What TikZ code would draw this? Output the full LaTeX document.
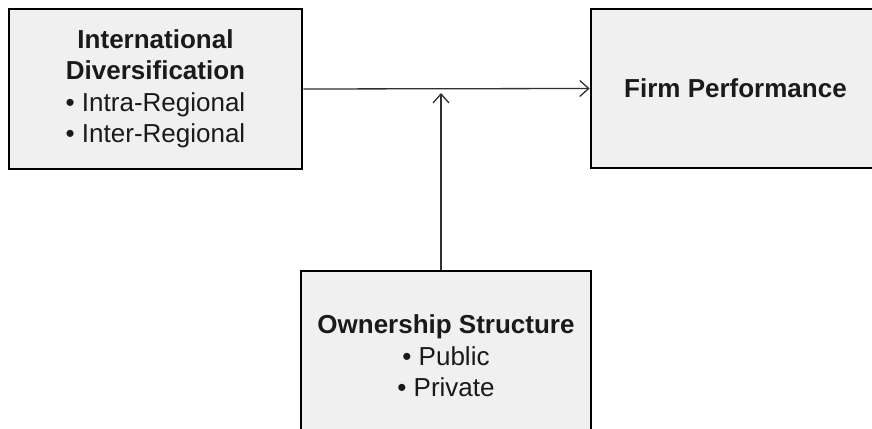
\documentclass[tikz,border=0pt]{standalone}
\usepackage{fontspec}
\setmainfont{Liberation Sans}
\usetikzlibrary{arrows.meta}
\definecolor{boxfill}{HTML}{F0F0F0}
\definecolor{inktext}{HTML}{1A1A1A}
\definecolor{linegray}{HTML}{303030}
\tikzset{
  panel/.style={draw=black, line width=2.6pt, fill=boxfill, text=inktext,
    align=center, inner sep=0pt, font=\fontsize{26}{31.5}\selectfont},
  arr/.style={draw=linegray, line width=1.3pt, -{Straight Barb[length=9pt,width=16pt,line width=1.3pt]}}
}
\begin{document}
\begin{tikzpicture}[x=1pt,y=1pt]
\useasboundingbox (0,0) rectangle (872,428);
\clip (0,0) rectangle (872,428);
\fill[white] (0,0) rectangle (872,428);
\node[panel, minimum width=293pt, minimum height=160pt] (intl) at (155.5,339)
  {\textbf{International}\\\textbf{Diversification}\\• Intra-Regional\\• Inter-Regional};
\node[panel, minimum width=289pt, minimum height=159pt] (perf) at (735.5,339.5)
  {\textbf{Firm Performance}};
\node[panel, minimum width=290pt, minimum height=170pt] (own) at (446,72)
  {\textbf{Ownership Structure}\\• Public\\• Private};
\coordinate (vtip) at (441,335);
\draw[arr] (intl.east) -- (perf.west);
\draw[arr] (own.north -| vtip) -- (vtip);
\end{tikzpicture}
\end{document}
